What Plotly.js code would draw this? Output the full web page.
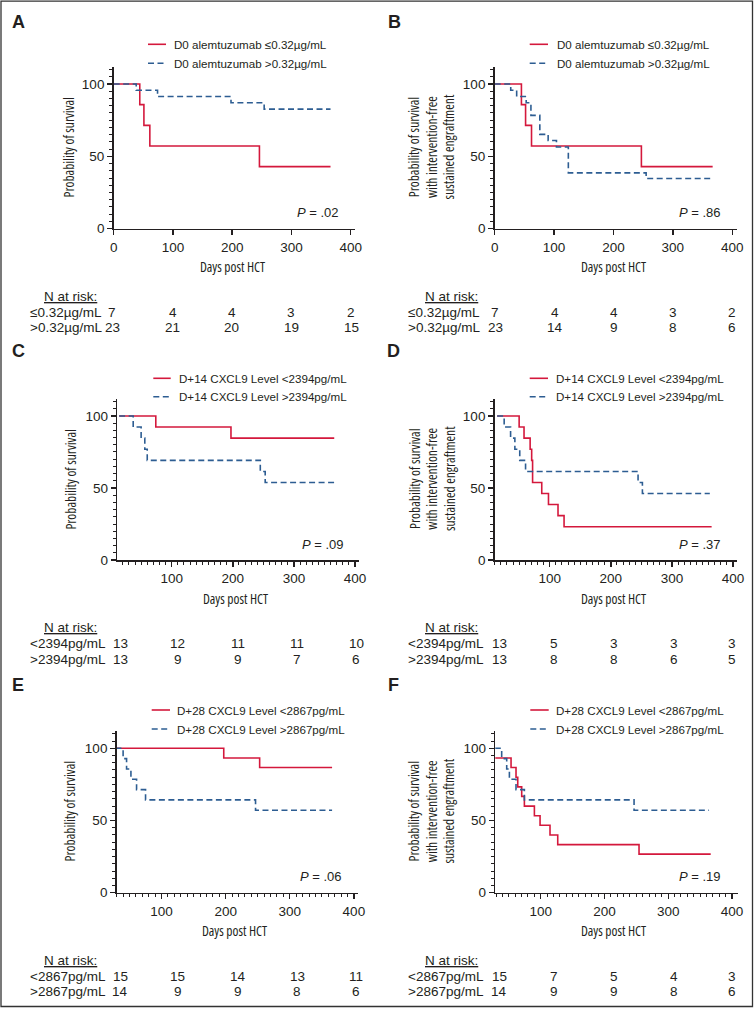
<!DOCTYPE html>
<html><head><meta charset="utf-8">
<script src="https://cdn.plot.ly/plotly-3.0.1.min.js"></script>
<style>
html,body{margin:0;padding:0;background:#fff}
#chart{width:755px;height:1009px}
#chart text[style*="Open Sans"]{font-stretch:82% !important;}
</style>
</head><body><div id="chart"></div>
<script>
// ---------------- DATA ----------------
const panelLetters = ['A','B','C','D','E','F'];
const legendLow  = ['D0 alemtuzumab \u22640.32\u00b5g/mL','D0 alemtuzumab \u22640.32\u00b5g/mL','D+14 CXCL9 Level <2394pg/mL','D+14 CXCL9 Level <2394pg/mL','D+28 CXCL9 Level <2867pg/mL','D+28 CXCL9 Level <2867pg/mL'];
const legendHigh = ['D0 alemtuzumab >0.32\u00b5g/mL','D0 alemtuzumab >0.32\u00b5g/mL','D+14 CXCL9 Level >2394pg/mL','D+14 CXCL9 Level >2394pg/mL','D+28 CXCL9 Level >2867pg/mL','D+28 CXCL9 Level >2867pg/mL'];
const riskLabelLow  = ['\u22640.32\u00b5g/mL','\u22640.32\u00b5g/mL','<2394pg/mL','<2394pg/mL','<2867pg/mL','<2867pg/mL'];
const riskLabelHigh = ['>0.32\u00b5g/mL','>0.32\u00b5g/mL','>2394pg/mL','>2394pg/mL','>2867pg/mL','>2867pg/mL'];
const pValues = ['.02','.86','.09','.37','.06','.19'];
const yTitles = ['Probability of survival','Probability of survival<br>with intervention-free<br>sustained engraftment','Probability of survival','Probability of survival<br>with intervention-free<br>sustained engraftment','Probability of survival','Probability of survival<br>with intervention-free<br>sustained engraftment'];
const xTitle = 'Days post HCT';

// Kaplan-Meier step curves (days, % surviving)
const A_low_t  = [0,44,51,61,246,366];
const A_low_s  = [100,85.7,71.4,57.1,42.9,42.9];
const A_high_t = [0,38,74,198,254,366];
const A_high_s = [100,95.7,91.3,87.0,82.6,82.6];

const B_low_t  = [0,45,52,62,247,367];
const B_low_s  = [100,85.7,71.4,57.1,42.9,42.9];
const B_high_t = [0,27,37,53,61,76,90,104,124,255,367];
const B_high_s = [100,95.7,91.3,87.0,78.3,65.2,60.9,56.5,38.6,34.7,34.7];

const C_low_t  = [14,74,197,366];
const C_low_s  = [100,92.3,84.6,84.6];
const C_high_t = [14,37,50,56,60,245,253,366];
const C_high_s = [100,92.3,84.6,76.9,69.2,61.5,53.8,53.8];

const D_low_t  = [14,50,58,68,70.5,72,87,98,113.6,123.5,365];
const D_low_s  = [100,92.3,84.6,76.9,69.2,53.8,46.2,38.5,30.8,23.1,23.1];
const D_high_t = [14,25.5,36,43,51,60.5,244.6,251.7,362];
const D_high_s = [100,92.3,84.6,76.9,69.2,61.5,53.8,46.2,46.2];

const E_low_t  = [28,197,253,366];
const E_low_s  = [100,93.3,86.7,86.7];
const E_high_t = [28,40,45.4,52.2,61,75,246.6,366];
const E_high_s = [100,92.9,85.7,78.6,71.4,64.3,57.1,57.1];

const F_low_t  = [28,53.5,61.3,64,70.2,74.4,90.1,99,114.6,126.7,254.2,366.6];
const F_low_s  = [93.3,86.7,80,73.3,66.7,60,53.3,46.7,40,33.3,26.7,26.7];
const F_high_t = [28,38.8,46.7,50.9,61.3,74.4,246.4,364];
const F_high_s = [100,92.9,85.7,78.6,71.4,64.3,57.1,57.1];

// Numbers at risk (columns: start, 100, 200, 300, 400 days)
const A_risk_low = [7,4,4,3,2],      A_risk_high = [23,21,20,19,15];
const B_risk_low = [7,4,4,3,2],      B_risk_high = [23,14,9,8,6];
const C_risk_low = [13,12,11,11,10], C_risk_high = [13,9,9,7,6];
const D_risk_low = [13,5,3,3,3],     D_risk_high = [13,8,8,6,5];
const E_risk_low = [15,15,14,13,11], E_risk_high = [14,9,9,8,6];
const F_risk_low = [15,7,5,4,3],     F_risk_high = [14,9,9,8,6];

const curves = [
  [A_low_t,A_low_s,A_high_t,A_high_s],[B_low_t,B_low_s,B_high_t,B_high_s],
  [C_low_t,C_low_s,C_high_t,C_high_s],[D_low_t,D_low_s,D_high_t,D_high_s],
  [E_low_t,E_low_s,E_high_t,E_high_s],[F_low_t,F_low_s,F_high_t,F_high_s]];
const risks = [[A_risk_low,A_risk_high],[B_risk_low,B_risk_high],[C_risk_low,C_risk_high],
  [D_risk_low,D_risk_high],[E_risk_low,E_risk_high],[F_risk_low,F_risk_high]];

// ---------------- LAYOUT (pixel geometry) ----------------
const W = 755, H = 1009;
const px = v => v / W, py = v => 1 - v / H;
const geo = [
  {x0:113.7,x1:355.4,xr:[0,408],   yb:228.7,yt:66.6, minor:false, letY:21.7, legY:[44.3,63.3], leg:[148,166,172], pR:340.7, ytX:68.3, xtX:232.5, cols:[112,172.5,231.5,291,351], labL:28, nR:99},
  {x0:494.7,x1:737,  xr:[0,408],   yb:228.7,yt:66.6, minor:false, letY:21.7, legY:[44.3,63.3], leg:[529.7,548,554.7], pR:723, ytX:432, xtX:613.5, cols:[495,554.6,614,673,732], labL:406, nR:480},
  {x0:117.3,x1:359.3,xr:[11,407],  yb:560,  yt:398.7,minor:true,  letY:350.5,legY:[378.3,396.7],leg:[153.3,170.7,176.7], pR:345.7, ytX:71.7, xtX:236, cols:[120,177.5,237.5,297,356], labL:28, nR:99},
  {x0:494.7,x1:737.3,xr:[10,407],  yb:560,  yt:398.7,minor:true,  letY:350.5,legY:[378.3,396.7],leg:[529.7,548,554], pR:723, ytX:432, xtX:614, cols:[499,554,614,674,732], labL:406, nR:480},
  {x0:116.7,x1:358.3,xr:[30,406.9],yb:892.7,yt:731,  minor:true,  letY:684.5,legY:[710,729],   leg:[151.7,170,175], pR:344, ytX:70, xtX:234.5, cols:[120,177.5,237.5,297,356], labL:28, nR:99},
  {x0:495.3,x1:738,  xr:[28.8,409.4],yb:892.7,yt:731,minor:true,  letY:684.5,legY:[710,729],   leg:[530.3,548.7,554], pR:723, ytX:432, xtX:614, cols:[499,554,614,674,732], labL:406, nR:480}
];
const letX = [18.3,394.3,18,394,17.5,394];

const RED = '#d4183c', BLUE = '#2d5d92', INK = '#231f20';
const SANS = 'Liberation Sans, Arial, sans-serif';
const COND = 'Open Sans, Liberation Sans, sans-serif';

const traces = [], annotations = [], shapes = [];
const layout = {width:W, height:H, margin:{l:0,r:0,t:0,b:0}, paper_bgcolor:'#fff', plot_bgcolor:'rgba(0,0,0,0)', showlegend:false, font:{family:SANS,color:INK}};

geo.forEach((g,i) => {
  const n = i === 0 ? '' : String(i+1);
  const [lt,ls,ht,hs] = curves[i];
  traces.push({x:lt, y:ls, xaxis:'x'+n, yaxis:'y'+n, type:'scatter', mode:'lines', line:{shape:'hv', color:RED, width:1.6}, hoverinfo:'skip', name:legendLow[i]});
  traces.push({x:ht, y:hs, xaxis:'x'+n, yaxis:'y'+n, type:'scatter', mode:'lines', line:{shape:'hv', color:BLUE, width:1.6, dash:'6px,3.5px'}, hoverinfo:'skip', name:legendHigh[i]});
  const common = {showline:true, linewidth:1.6, linecolor:INK, ticks:'outside', ticklen:5, tickwidth:1.4, tickcolor:INK, showgrid:false, zeroline:false, fixedrange:true, tickfont:{family:SANS,size:13.5,color:INK}};
  layout['xaxis'+n] = Object.assign({}, common, {domain:[px(g.x0),px(g.x1)], range:g.xr, anchor:'y'+n, tickmode:'linear', tick0:0, dtick:100,
    minor: g.minor ? {tickmode:'linear', tick0:0, dtick:10, ticks:'outside', ticklen:3, tickwidth:1, tickcolor:INK, showgrid:false} : undefined});
  layout['yaxis'+n] = Object.assign({}, common, {domain:[py(g.yb),py(g.yt)], range:[0,112], anchor:'x'+n, tickmode:'linear', tick0:0, dtick:50,
    minor:{tickmode:'linear', tick0:0, dtick:5, ticks:'outside', ticklen:3, tickwidth:1, tickcolor:INK, showgrid:false}});

  const A = (o) => annotations.push(Object.assign({xref:'paper', yref:'paper', showarrow:false, yanchor:'middle'}, o));
  // panel letter
  A({x:px(letX[i]), y:py(g.letY), xanchor:'center', text:'<b>'+panelLetters[i]+'</b>', font:{family:SANS, size:18, color:INK}});
  // legend
  [[legendLow[i],RED,'solid'],[legendHigh[i],BLUE,'6px,3.5px']].forEach((L,k) => {
    shapes.push({type:'line', xref:'paper', yref:'paper', x0:px(g.leg[0]), x1:px(g.leg[1]), y0:py(g.legY[k]), y1:py(g.legY[k]), line:{color:L[1], width:1.6, dash:L[2]}});
    A({x:px(g.leg[2]), y:py(g.legY[k]), xanchor:'left', text:L[0], font:{family:SANS, size:11.6, color:INK}});
  });
  // p value
  A({x:px(g.pR), y:py(g.yb-16), xanchor:'right', text:'<i>P</i> = '+pValues[i], font:{family:SANS, size:13, color:INK}});
  // axis titles
  const ymid = (g.yb + g.yt)/2;
  A({x:px(g.ytX), y:py(ymid), xanchor:'center', textangle:-90, text:yTitles[i], font:{family:COND, size:13.5, color:INK}});
  A({x:px(g.xtX), y:py(g.yb+38.5), xanchor:'center', text:xTitle, font:{family:COND, size:13.5, color:INK}});
  // risk table
  A({x:px(g.nR), y:py(g.yb+67.5), xanchor:'right', text:'<u>N at risk:</u>', font:{family:SANS, size:13.5, color:INK}});
  const rowY = [g.yb+83.5, g.yb+99];
  [riskLabelLow[i], riskLabelHigh[i]].forEach((lab,k) => {
    A({x:px(g.labL), y:py(rowY[k]), xanchor:'left', text:lab, font:{family:SANS, size:13.5, color:INK}});
    risks[i][k].forEach((v,c) => A({x:px(g.cols[c]), y:py(rowY[k]), xanchor:'center', text:String(v), font:{family:SANS, size:13.5, color:INK}}));
  });
});
// outer frame
shapes.push({type:'rect', xref:'paper', yref:'paper', x0:px(1), x1:px(752.5), y0:py(1.2), y1:py(1006.5), line:{color:'#333', width:1.3}, fillcolor:'rgba(0,0,0,0)'});
layout.annotations = annotations;
layout.shapes = shapes;
Plotly.newPlot('chart', traces, layout, {staticPlot:true, displayModeBar:false});
</script></body></html>
